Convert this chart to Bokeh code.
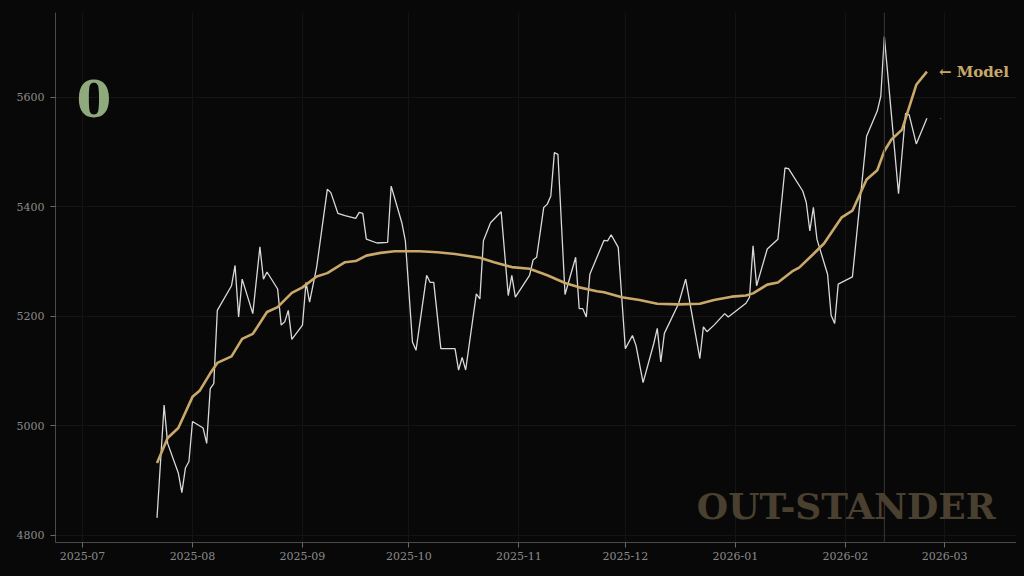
import pandas as pd
from bokeh.plotting import figure
from bokeh.models import (Span, Label, DatetimeTickFormatter, MonthsTicker,
                          Range1d, ColumnDataSource, GlobalInlineStyleSheet)
from bokeh.embed import file_html
from bokeh.resources import INLINE

# ---------------- data ----------------
actual_dates = [
    "2025-07-22", "2025-07-24", "2025-07-25", "2025-07-28", "2025-07-29", "2025-07-30", "2025-07-31",
    "2025-08-01", "2025-08-04", "2025-08-05", "2025-08-06", "2025-08-07", "2025-08-08", "2025-08-12",
    "2025-08-13", "2025-08-14", "2025-08-15", "2025-08-18", "2025-08-20", "2025-08-21", "2025-08-22",
    "2025-08-25", "2025-08-26", "2025-08-27", "2025-08-28", "2025-08-29", "2025-09-01", "2025-09-02",
    "2025-09-03", "2025-09-05", "2025-09-08", "2025-09-09", "2025-09-11", "2025-09-13", "2025-09-16",
    "2025-09-17", "2025-09-18", "2025-09-19", "2025-09-22", "2025-09-25", "2025-09-26", "2025-09-29",
    "2025-09-30", "2025-10-02", "2025-10-03", "2025-10-06", "2025-10-07", "2025-10-08", "2025-10-10",
    "2025-10-14", "2025-10-15", "2025-10-16", "2025-10-17", "2025-10-20", "2025-10-21", "2025-10-22",
    "2025-10-24", "2025-10-27", "2025-10-29", "2025-10-30", "2025-10-31", "2025-11-04", "2025-11-05",
    "2025-11-06", "2025-11-08", "2025-11-09", "2025-11-10", "2025-11-11", "2025-11-12", "2025-11-14",
    "2025-11-17", "2025-11-18", "2025-11-19", "2025-11-20", "2025-11-21", "2025-11-25", "2025-11-26",
    "2025-11-27", "2025-11-29", "2025-12-01", "2025-12-03", "2025-12-04", "2025-12-06", "2025-12-09",
    "2025-12-10", "2025-12-11", "2025-12-12", "2025-12-16", "2025-12-18", "2025-12-22", "2025-12-23",
    "2025-12-24", "2025-12-26", "2025-12-29", "2025-12-30", "2026-01-04", "2026-01-05", "2026-01-06",
    "2026-01-07", "2026-01-10", "2026-01-13", "2026-01-15", "2026-01-16", "2026-01-20", "2026-01-21",
    "2026-01-22", "2026-01-23", "2026-01-24", "2026-01-27", "2026-01-28", "2026-01-29", "2026-01-30",
    "2026-02-03", "2026-02-07", "2026-02-10", "2026-02-11", "2026-02-12", "2026-02-14", "2026-02-16",
    "2026-02-18", "2026-02-19", "2026-02-21", "2026-02-24",
]
actual_values = [
    4832, 5038, 4968, 4914, 4878, 4923, 4935,
    5008, 4996, 4968, 5068, 5077, 5211, 5256,
    5293, 5199, 5268, 5205, 5327, 5268, 5281,
    5250, 5184, 5190, 5211, 5158, 5184, 5262,
    5226, 5290, 5432, 5426, 5388, 5384, 5379,
    5390, 5388, 5341, 5334, 5335, 5438, 5371,
    5338, 5153, 5138, 5275, 5262, 5262, 5141,
    5141, 5102, 5125, 5102, 5241, 5232, 5338,
    5371, 5391, 5238, 5275, 5235, 5275, 5303,
    5308, 5399, 5405, 5420, 5499, 5496, 5240,
    5308, 5214, 5214, 5199, 5277, 5339, 5338,
    5349, 5326, 5141, 5165, 5147, 5079, 5150,
    5178, 5117, 5169, 5223, 5268, 5123, 5181,
    5172, 5184, 5205, 5199, 5224, 5235, 5329,
    5256, 5323, 5341, 5471, 5470, 5429, 5408,
    5356, 5399, 5341, 5277, 5202, 5187, 5259,
    5272, 5529, 5575, 5602, 5711, 5568, 5424,
    5571, 5568, 5515, 5562,
]

model_dates = [
    "2025-07-22", "2025-07-25", "2025-07-28", "2025-08-01", "2025-08-03", "2025-08-06", "2025-08-08",
    "2025-08-12", "2025-08-15", "2025-08-18", "2025-08-22", "2025-08-25", "2025-08-29", "2025-09-01",
    "2025-09-05", "2025-09-08", "2025-09-13", "2025-09-16", "2025-09-19", "2025-09-23", "2025-09-27",
    "2025-10-04", "2025-10-09", "2025-10-14", "2025-10-21", "2025-10-25", "2025-10-30", "2025-11-04",
    "2025-11-09", "2025-11-14", "2025-11-18", "2025-11-23", "2025-11-25", "2025-11-30", "2025-12-05",
    "2025-12-10", "2025-12-16", "2025-12-22", "2025-12-26", "2025-12-31", "2026-01-04", "2026-01-06",
    "2026-01-10", "2026-01-13", "2026-01-17", "2026-01-19", "2026-01-23", "2026-01-26", "2026-01-31",
    "2026-02-03", "2026-02-07", "2026-02-10", "2026-02-12", "2026-02-14", "2026-02-17", "2026-02-21",
    "2026-02-24",
]
model_values = [
    4932, 4978, 4996, 5053, 5064, 5096, 5115,
    5127, 5159, 5168, 5208, 5217, 5243, 5253,
    5273, 5279, 5299, 5301, 5311, 5316, 5319,
    5319, 5317, 5314, 5307, 5299, 5290, 5287,
    5275, 5261, 5253, 5246, 5244, 5235, 5230,
    5223, 5222, 5223, 5230, 5236, 5238, 5242,
    5258, 5262, 5282, 5289, 5314, 5333, 5381,
    5393, 5450, 5467, 5502, 5523, 5541, 5623,
    5647,
]

marker_date = "2026-02-12"
big_label = "0"
model_label = "\u2190 Model"
watermark = "OUT-STANDER"
y_ticks = [4800, 5000, 5200, 5400, 5600]

# ---------------- styling ----------------
BG = "#080808"
SERIF = "DejaVu Serif"

actual_src = ColumnDataSource(dict(x=pd.to_datetime(actual_dates), y=actual_values))
model_src = ColumnDataSource(dict(x=pd.to_datetime(model_dates), y=model_values))

x_start = pd.Timestamp("2025-06-23 09:20")
x_end = pd.Timestamp("2026-03-21 06:00")

p = figure(width=1008, height=560, x_axis_type="datetime",
           output_backend="svg", toolbar_location=None,
           x_range=Range1d(x_start, x_end), y_range=Range1d(4787, 5755),
           min_border_left=47, min_border_right=0, min_border_top=4,
           min_border_bottom=26,
           background_fill_color=BG, border_fill_color=BG,
           outline_line_color=None)
p.stylesheets = [GlobalInlineStyleSheet(css="html { margin: 0; padding: 0; background-color: #080808; } body { background-color: #080808; margin: 8px; overflow: hidden; }")]

for ax in (p.xaxis[0], p.yaxis[0]):
    ax.axis_line_color = "#4a4a4a"
    ax.axis_line_width = 1
    ax.major_tick_line_color = "#6a6a6a"
    ax.major_tick_out = 5
    ax.major_tick_in = 0
    ax.minor_tick_line_color = None
    ax.major_label_text_color = "#8a8a8a"
    ax.major_label_text_font = SERIF
    ax.major_label_text_font_size = "11px"

p.xaxis[0].ticker = MonthsTicker(months=list(range(1, 13)))
p.xaxis[0].formatter = DatetimeTickFormatter(months="%Y-%m", days="%Y-%m")
p.xaxis[0].major_label_standoff = 4
p.yaxis[0].ticker = y_ticks
p.yaxis[0].major_label_standoff = 6

p.xgrid.grid_line_color = "#141414"
p.ygrid.grid_line_color = "#141414"
p.xgrid.grid_line_width = 1
p.ygrid.grid_line_width = 1

p.add_layout(Span(location=pd.Timestamp(marker_date), dimension="height",
                  line_color="#383838", line_width=1))

p.line("x", "y", source=actual_src, line_color="#d9d9d9", line_width=1.3)
p.line("x", "y", source=model_src, line_color="#c9a86a", line_width=2.6)

p.add_layout(Label(x=pd.Timestamp("2025-07-04 05:00"), y=5598, text=big_label,
                   text_font=SERIF, text_font_style="bold", text_font_size="50px",
                   text_color="#8faa7c", text_align="center", text_baseline="middle"))

p.add_layout(Label(x=model_src.data["x"][-1], y=model_values[-1], text=model_label,
                   x_offset=12, text_font=SERIF, text_font_style="bold",
                   text_font_size="15px", text_color="#c9a86a",
                   text_align="left", text_baseline="middle"))

p.add_layout(Label(x=actual_src.data["x"][-1], y=actual_values[-1], text="\u00b7",
                   x_offset=12, text_font=SERIF, text_font_size="10px",
                   text_color="#555555", text_align="left", text_baseline="middle"))

p.add_layout(Label(x=pd.Timestamp("2026-02-01 06:00"), y=4853, text=watermark,
                   text_font=SERIF, text_font_style="bold", text_font_size="36px",
                   text_color="#4a4030", text_align="center", text_baseline="middle"))

open("out.html", "w").write(file_html(p, INLINE))
